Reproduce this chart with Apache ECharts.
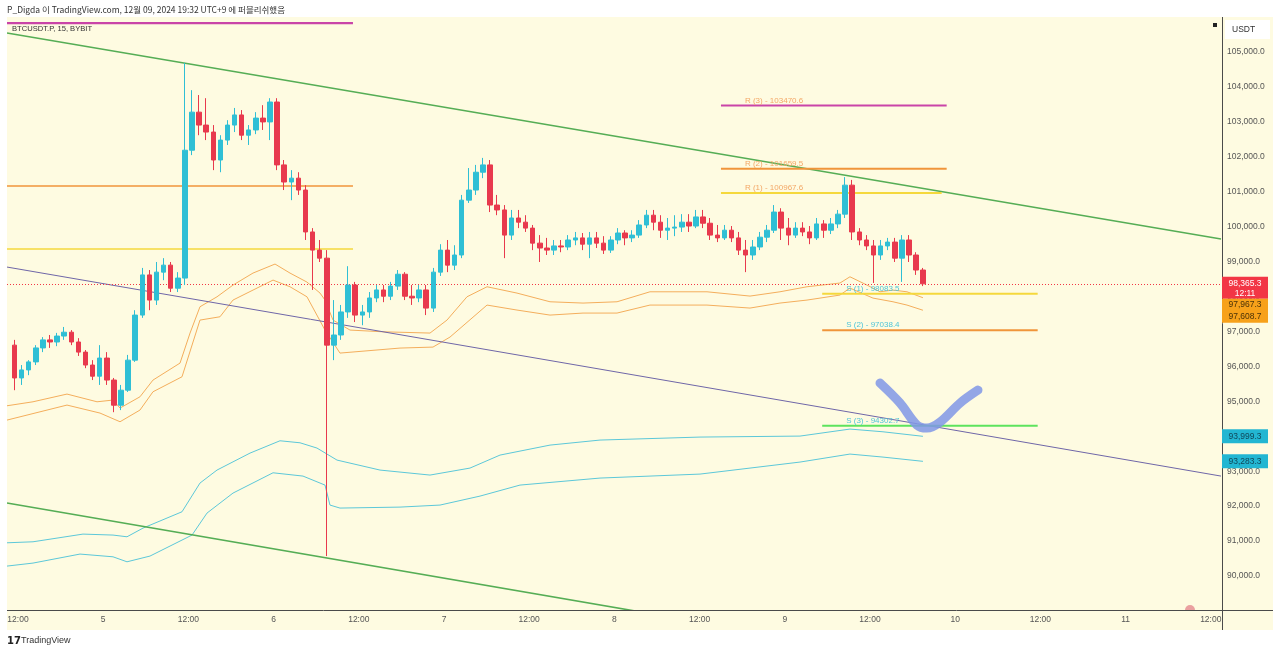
<!DOCTYPE html>
<html><head><meta charset="utf-8">
<script src="https://cdn.jsdelivr.net/npm/echarts@6/dist/echarts.min.js"></script>
<style>html,body{margin:0;padding:0;background:#fff}#c{width:1280px;height:654px}</style>
</head><body><div id="c"></div>
<script>
// ---------- DATA ----------
// time axis: hours since Dec 4 00:00 (UTC+9)
const xTickValues = [12,24,36,48,60,72,84,96,108,120,132,144,156,168,180];
const xTickLabels = ['12:00','5','12:00','6','12:00','7','12:00','8','12:00','9','12:00','10','12:00','11','12:00'];
const yTicks = [90000,91000,92000,93000,94000,95000,96000,97000,98000,99000,100000,101000,102000,103000,104000,105000];
const xRange = [10.45, 181.44];
const yRange = [89027, 106004];

// hourly candles starting Dec 4 11:00
const candleStartHour = 11;
const open = [96610,95670,95900,96130,96530,96760,96700,96870,96980,96700,96410,96040,95720,96240,95610,94890,95320,96180,97470,98620,97900,98700,98900,98240,98530,102190,103280,102910,102710,101910,102480,102910,103200,102620,102770,103110,103000,103570,101770,101280,101390,101050,99850,99330,99100,96610,96900,97560,98330,97470,97560,97960,98190,98010,98300,98640,98010,97960,98190,97670,98700,99330,98900,99190,100760,101050,101560,101770,100620,100480,99760,100250,100130,99960,99530,99390,99330,99450,99420,99620,99680,99500,99680,99530,99330,99620,99820,99680,99760,100050,100330,100130,99900,99960,99990,100130,100020,100280,100100,99760,99680,99900,99680,99330,99190,99420,99700,99900,100420,99960,99760,99960,99850,99680,100080,99900,100080,100360,101190,99850,99620,99450,99190,99450,99560,99100,99620,99190,98760];
const high = [96760,96040,96180,96610,96840,96900,96960,97130,97040,96810,96470,96180,96610,96410,95670,95470,96330,97610,98820,98760,98990,99100,98990,98700,104690,103910,103770,103680,102910,102620,103050,103400,103340,102910,103280,103480,103680,103680,101910,101620,101560,101190,99960,99620,99330,97900,97760,98870,98420,97760,98130,98330,98330,98420,98760,98700,98330,98330,98330,98820,99500,99620,99470,100910,101680,101770,101970,101910,100910,100620,100480,100480,100330,100050,99760,99680,99620,99620,99760,99850,99820,99850,99850,99730,99730,99960,99900,99900,100190,100480,100480,100330,100250,100330,100360,100360,100480,100480,100250,100050,100050,100020,99850,99620,99620,99850,100050,100620,100530,100250,100130,100130,100020,100250,100190,100250,100480,101420,101340,99960,99760,99620,99620,99680,99680,99760,99760,99270,98820];
const low = [95320,95470,95750,96040,96410,96530,96580,96760,96610,96300,95950,95610,95470,95470,94690,94750,95270,96130,97390,97610,97760,98470,98130,98130,98330,102050,102620,102480,101620,101560,102340,102710,102480,102340,102650,102770,102480,101620,101050,100760,100910,99620,98190,98990,90570,96180,96760,97390,97270,97180,97390,97840,97840,97900,98190,97900,97760,97840,97470,97560,98590,98700,98760,99100,100680,100910,101390,100420,100330,99100,99620,99960,99850,99330,98990,99190,99190,99270,99330,99470,99330,99100,99390,99220,99250,99500,99470,99560,99680,99960,99900,99680,99620,99730,99850,99850,99960,99960,99620,99560,99620,99560,99190,98700,99050,99330,99560,99820,99620,99470,99680,99730,99500,99620,99680,99790,99960,100250,99620,99470,99330,98390,99050,99330,98990,98420,98990,98620,98300];
const close = [95670,95900,96130,96530,96760,96700,96870,96980,96700,96410,96040,95720,96240,95610,94890,95320,96180,97470,98620,97900,98700,98900,98240,98530,102190,103280,102910,102710,101910,102480,102910,103200,102620,102770,103110,103000,103570,101770,101280,101390,101050,99850,99330,99100,96610,96900,97560,98330,97470,97560,97960,98190,98010,98300,98640,98010,97960,98190,97670,98700,99330,98900,99190,100760,101050,101560,101770,100620,100480,99760,100250,100130,99960,99530,99390,99330,99450,99420,99620,99680,99500,99680,99530,99330,99620,99820,99680,99760,100050,100330,100130,99900,99960,99990,100130,100020,100280,100100,99760,99680,99900,99680,99330,99190,99420,99700,99900,100420,99960,99760,99960,99850,99680,100080,99900,100080,100360,101190,99850,99620,99450,99190,99450,99560,99100,99620,99190,98760,98365.3];
const lastPrice = 98365.3;
const lastCountdown = '12:11';

// bands [hour, price]
const orangeUpper = [[10.45,94874],[14.11,94988],[18.90,95209],[23.13,94988],[25.38,95037],[26.37,94808],[29.18,95131],[31.01,95609],[34.82,96096],[36.23,96955],[37.63,97708],[40.03,97994],[42.28,98329],[45.10,98673],[48.20,98931],[50.31,98673],[52.70,98415],[54.54,98100],[55.24,97900],[56.37,97327],[58.76,97041],[63.41,96992],[70.03,96955],[72.42,97327],[75.24,97994],[78.06,98281],[82.28,98100],[86.93,97851],[91.58,97814],[96.37,97851],[101.01,98137],[104.25,98137],[109.04,98137],[115.10,98014],[119.32,98137],[123.13,98281],[127.77,98387],[129.18,98567],[131.58,98329],[133.41,98137],[135.24,98186],[137.21,98137],[139.46,97967.3]];
const orangeLower = [[10.45,94464],[18.90,94894],[23.55,94665],[26.37,94416],[29.18,94751],[31.01,95274],[35.10,95704],[37.63,97327],[40.45,97422],[42.28,97900],[47.92,98472],[50.31,98281],[52.70,97994],[55.24,97041],[57.35,96382],[65.80,96526],[70.45,96554],[72.85,96841],[78.06,97757],[82.28,97614],[86.93,97470],[91.58,97528],[96.37,97528],[101.01,97757],[109.04,97757],[115.10,97671],[119.32,97814],[123.13,97900],[127.77,98043],[129.18,98243],[132.42,97957],[135.24,97851],[137.21,97757],[139.46,97608.7]];
const cyanUpper = [[10.45,90951],[14.11,90980],[21.15,91200],[25.38,91172],[27.35,91123],[29.61,91372],[35.10,91839],[37.63,92661],[40.03,93033],[44.68,93519],[48.90,93872],[51.72,93814],[54.11,93663],[56.93,93319],[62.99,93033],[70.03,92890],[75.66,93090],[79.89,93462],[86.93,93748],[93.97,93892],[108.06,93978],[122.14,94006],[129.18,94207],[133.83,94129],[139.46,93999.3]];
const cyanLower = [[10.45,90284],[14.11,90370],[20.73,90628],[25.38,90550],[27.35,90407],[30.59,90571],[36.51,91172],[38.62,91802],[42.28,92374],[47.92,92955],[52.14,92861],[55.24,92603],[55.94,92031],[57.35,91945],[65.80,91973],[71.44,92031],[77.07,92288],[82.70,92603],[93.97,92804],[108.06,92918],[122.14,93262],[129.18,93491],[133.83,93405],[139.46,93283.3]];

// trend lines [hour, price]
const channelUpper = [[10.45,105544],[181.44,99646]];
const channelLower = [[10.45,92088],[181.44,86117]];
const purpleLine = [[10.45,98845],[181.44,92861]];

// pivot levels
const prevPivotNames = ['R3','R2','R1'];
const prevPivotValues = [105830,101164,99360];
const prevPivotFrom = 10.45, prevPivotTo = 59.18;
const pivotNames = ['R (3)','R (2)','R (1)','S (1)','S (2)','S (3)'];
const pivotValues = [103470.6,101659.5,100967.6,98083.5,97038.4,94302.7];
const pivotFrom = [111.01,111.01,111.01,125.27,125.27,125.27];
const pivotTo = [142.80,142.80,142.10,155.62,155.62,155.62];

// hand-drawn brush "V"
const brushStroke = [[133.41,95524],[136.23,94951],[138.62,94321],[140.03,94235],[141.86,94407],[144.68,94951],[147.21,95323]];

// ---------- STYLE ----------
const FONT = '"Liberation Sans", Arial, sans-serif';
const BG = '#fefbe1';
const UP = '#2fbfd5', DOWN = '#e8394d';
const prevPivotColors = ['#c944a8','#f0953a','#f5d83c'];
const pivotColors = ['#c944a8','#f0953a','#f5d83c','#f5d83c','#f0953a','#5de35d'];
const pivotTextColors = ['#f3a766','#f3a766','#f3a766','#4fc5d8','#4fc5d8','#4fc5d8'];

function fmt(v){
  const s = v.toFixed(1); const [i,d] = s.split('.');
  return i.replace(/\B(?=(\d{3})+(?!\d))/g, ',') + '.' + d;
}

const chart = echarts.init(document.getElementById('c'));
const candleData = open.map((o,i)=>[candleStartHour + i + 0.5, o, close[i], low[i], high[i]]);

function lineSeries(data, color, width, z, extra){
  return Object.assign({type:'line', data, symbol:'none', showSymbol:false, silent:true, clip:true,
    animation:false, z, lineStyle:{color, width}}, extra||{});
}

const series = [];
series.push(lineSeries(cyanUpper, '#5cc8d9', 1, 2));
series.push(lineSeries(cyanLower, '#5cc8d9', 1, 2));
series.push(lineSeries(orangeUpper, '#f4ae5c', 1, 2));
series.push(lineSeries(orangeLower, '#f4ae5c', 1, 2));
series.push(lineSeries(channelUpper, '#55ad55', 1.6, 3));
series.push(lineSeries(channelLower, '#55ad55', 1.6, 3));
series.push(lineSeries(purpleLine, '#6f66a8', 1, 3));
prevPivotValues.forEach((v,i)=>series.push(lineSeries([[prevPivotFrom,v],[prevPivotTo,v]], prevPivotColors[i], i===0?2.2:1.6, 3)));
pivotValues.forEach((v,i)=>series.push(lineSeries([[pivotFrom[i],v],[pivotTo[i],v]], pivotColors[i], 2, 3)));
series.push({
  type:'candlestick', data:candleData, encode:{x:0, y:[1,2,3,4]}, barWidth:5, z:5, silent:true, animation:false,
  itemStyle:{color:UP, color0:DOWN, borderColor:UP, borderColor0:DOWN, borderWidth:1},
  markLine:{silent:true, symbol:'none', animation:false, label:{show:false},
    lineStyle:{color:'#f23645', type:[1,2], width:1}, data:[{yAxis:lastPrice}]}
});
series.push(lineSeries(brushStroke, 'rgba(128,150,230,0.85)', 9, 8, {smooth:0.35,
  lineStyle:{color:'rgba(128,150,230,0.85)', width:9, cap:'round', join:'round'}}));

chart.setOption({
  backgroundColor: BG,
  animation:false,
  grid:{left:7, right:59, top:17, bottom:44, containLabel:false},
  xAxis:{type:'value', min:xRange[0], max:xRange[1], splitLine:{show:false},
    axisLine:{show:false}, axisTick:{show:false},
    axisLabel:{customValues:xTickValues, color:'#555', fontSize:8.5, fontFamily:FONT, margin:5,
      formatter:(v)=>{const k=xTickValues.indexOf(Math.round(v)); return k>=0?xTickLabels[k]:'';}}},
  yAxis:{type:'value', position:'right', min:yRange[0], max:yRange[1], splitLine:{show:false},
    axisLine:{show:false}, axisTick:{show:false},
    axisLabel:{customValues:yTicks, color:'#555', fontSize:8.5, fontFamily:FONT, margin:6, align:'left',
      formatter:(v)=>fmt(v)}},
  series
});

// ---------- overlays positioned through the chart scales ----------
const P = (x,y)=>chart.convertToPixel({xAxisIndex:0, yAxisIndex:0}, [x,y]);
const g = [];
// white frame outside the chart panel
g.push({type:'rect', shape:{x:0,y:0,width:1280,height:17}, style:{fill:'#fff'}, z:50});
g.push({type:'rect', shape:{x:0,y:0,width:7,height:654}, style:{fill:'#fff'}, z:50});
g.push({type:'rect', shape:{x:1273,y:0,width:7,height:654}, style:{fill:'#fff'}, z:50});
g.push({type:'rect', shape:{x:0,y:630,width:1280,height:24}, style:{fill:'#fff'}, z:50});
// axis lines
g.push({type:'line', shape:{x1:7,y1:610.5,x2:1273,y2:610.5}, style:{stroke:'#4a4a4a', lineWidth:1}, z:60});
g.push({type:'line', shape:{x1:1222.5,y1:17,x2:1222.5,y2:630}, style:{stroke:'#4a4a4a', lineWidth:1}, z:60});
// header texts
g.push({type:'text', x:7, y:10, style:{text:'P_Digda 이 TradingView.com, 12월 09, 2024 19:32 UTC+9 에 퍼블리쉬했음',
  fill:'#333', font:'8.5px "Noto Sans CJK KR", "Liberation Sans", sans-serif', textVerticalAlign:'middle'}, z:70});
g.push({type:'text', x:12, y:29, style:{text:'BTCUSDT.P, 15, BYBIT', fill:'#333', font:'7.6px '+FONT, textVerticalAlign:'middle'}, z:70});
// USDT box + small icon
g.push({type:'rect', shape:{x:1225,y:20,width:45,height:19}, style:{fill:'#fff'}, z:70});
g.push({type:'text', x:1232, y:30, style:{text:'USDT', fill:'#333', font:'8.5px '+FONT, textVerticalAlign:'middle'}, z:71});
g.push({type:'rect', shape:{x:1213,y:23,width:4,height:4}, style:{fill:'#222'}, z:70});
// footer logo
g.push({type:'text', x:7, y:641, style:{text:'17', fill:'#222', font:'bold 10px "DejaVu Sans", sans-serif', textVerticalAlign:'middle'}, z:70});
g.push({type:'text', x:21, y:641, style:{text:'TradingView', fill:'#333', font:'9px '+FONT, textVerticalAlign:'middle'}, z:70});
// small pink marker at bottom
g.push({type:'sector', shape:{cx:1190, cy:610, r:5, startAngle:Math.PI, endAngle:2*Math.PI}, style:{fill:'#eaa0a0'}, z:40});
// pivot labels
pivotValues.forEach((v,i)=>{
  const p = P(pivotFrom[i], v);
  g.push({type:'text', x:p[0]+24, y:p[1]-5, style:{text:pivotNames[i]+' - '+v, fill:pivotTextColors[i],
    font:'8px '+FONT, textVerticalAlign:'middle'}, z:45});
});
// price tags on the right axis
const tagX = 1222, tagW = 46;
const yLast = P(xRange[0], lastPrice)[1];
const redTop = yLast - 7;
g.push({type:'rect', shape:{x:tagX, y:redTop, width:tagW, height:22}, style:{fill:'#f23645'}, z:80});
g.push({type:'text', x:tagX+tagW/2, y:redTop+7, style:{text:fmt(lastPrice), fill:'#fff', font:'8.5px '+FONT, textAlign:'center', textVerticalAlign:'middle'}, z:81});
g.push({type:'text', x:tagX+tagW/2, y:redTop+17, style:{text:lastCountdown, fill:'#fff', font:'8.5px '+FONT, textAlign:'center', textVerticalAlign:'middle'}, z:81});
const oU = orangeUpper[orangeUpper.length-1][1], oL = orangeLower[orangeLower.length-1][1];
const orTop = Math.max(P(xRange[0], oU)[1]-6, redTop+22);
g.push({type:'rect', shape:{x:tagX, y:orTop, width:tagW, height:24}, style:{fill:'#f7a11a'}, z:80});
g.push({type:'text', x:tagX+tagW/2, y:orTop+6, style:{text:fmt(oU), fill:'#4a3208', font:'8.5px '+FONT, textAlign:'center', textVerticalAlign:'middle'}, z:81});
g.push({type:'text', x:tagX+tagW/2, y:orTop+18, style:{text:fmt(oL), fill:'#4a3208', font:'8.5px '+FONT, textAlign:'center', textVerticalAlign:'middle'}, z:81});
[cyanUpper[cyanUpper.length-1][1], cyanLower[cyanLower.length-1][1]].forEach(v=>{
  const y = P(xRange[0], v)[1];
  g.push({type:'rect', shape:{x:tagX, y:y-7, width:tagW, height:14}, style:{fill:'#22b6d2'}, z:80});
  g.push({type:'text', x:tagX+tagW/2, y:y, style:{text:fmt(v), fill:'#10485a', font:'8.5px '+FONT, textAlign:'center', textVerticalAlign:'middle'}, z:81});
});
chart.setOption({graphic:{elements:g}});
</script></body></html>
